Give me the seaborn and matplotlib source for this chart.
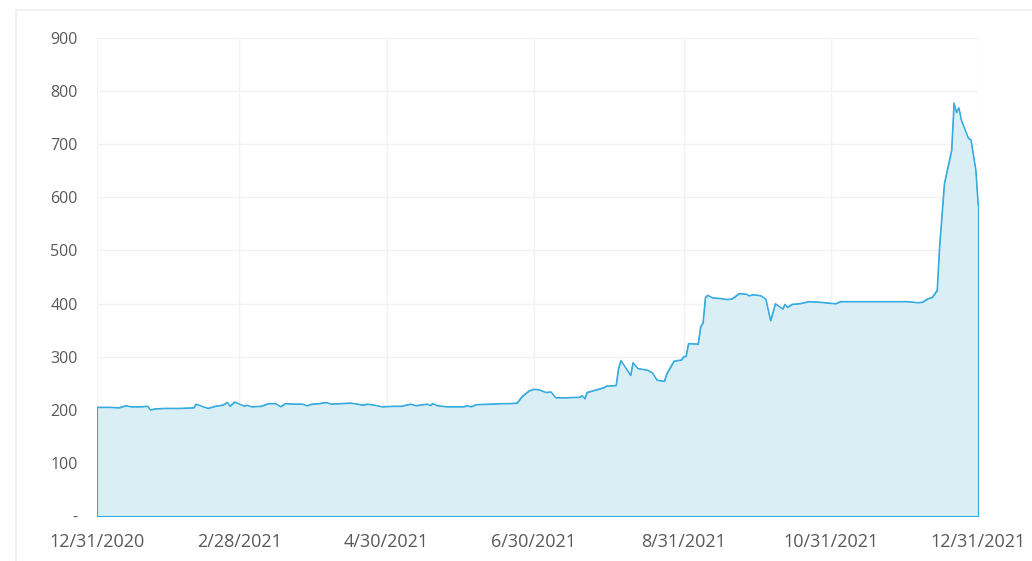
import numpy as np
import pandas as pd
import matplotlib
matplotlib.use("Agg")
import matplotlib.pyplot as plt
import matplotlib.dates as mdates
from matplotlib.patches import Rectangle
import seaborn as sns

# ---- data ----
start_date = "2020-12-31"
day_offsets = [0, 5, 9, 12, 14, 18, 21, 22, 24, 28, 34, 40, 41, 44, 46, 49, 52, 54, 55, 57,
               61, 62, 64, 68, 71, 74, 76, 78, 82, 85, 87, 89, 92, 95, 97, 101, 105, 108, 110,
               112, 115, 118, 123, 126, 130, 132, 135, 137, 138, 139, 141, 145, 152, 153, 155,
               157, 163, 168, 171, 174, 176, 179, 181, 183, 186, 188, 190, 194, 200, 201, 202,
               203, 207, 210, 211, 215, 216, 217, 221, 222, 224, 228, 230, 232, 235, 236, 239,
               242, 243, 244, 245, 249, 250, 251, 252, 253, 255, 258, 261, 263, 266, 269, 270,
               272, 275, 277, 279, 281, 284, 285, 286, 288, 291, 295, 299, 306, 308, 316, 328,
               336, 340, 342, 344, 346, 348, 349, 351, 354, 355, 356, 357, 358, 361, 362, 364, 365]
values = [205, 205, 204, 208, 206, 206, 207, 200, 202, 203, 203, 204, 211, 206, 203, 207, 209, 214, 207, 215,
          207, 209, 206, 207, 212, 212, 206, 212, 211, 211, 208, 211, 212, 214, 211, 212, 213, 211, 209,
          211, 209, 206, 207, 207, 211, 208, 210, 211, 208, 212, 208, 206, 206, 208, 206,
          210, 211, 212, 212, 213, 225, 236, 239, 238, 233, 234, 223, 223, 224, 227, 221,
          233, 238, 242, 245, 246, 278, 293, 265, 289, 278, 275, 270, 256, 254, 268, 292,
          294, 300, 301, 325, 324, 356, 364, 412, 416, 411, 410, 408, 409, 419, 418, 415,
          417, 415, 409, 368, 400, 390, 399, 393, 399, 400, 404, 403, 400, 404, 404, 404,
          404, 402, 403, 409, 412, 425, 507, 626, 689, 778, 760, 769, 746, 711, 709, 652, 585]
x_tick_dates = ["2020-12-31", "2021-02-28", "2021-04-30", "2021-06-30",
                "2021-08-31", "2021-10-31", "2021-12-31"]
x_tick_labels = ["12/31/2020", "2/28/2021", "4/30/2021", "6/30/2021",
                 "8/31/2021", "10/31/2021", "12/31/2021"]
y_ticks = [0, 100, 200, 300, 400, 500, 600, 700, 800, 900]
y_tick_labels = ["-", "100", "200", "300", "400", "500", "600", "700", "800", "900"]

df = pd.DataFrame({
    "date": pd.Timestamp(start_date) + pd.to_timedelta(day_offsets, unit="D"),
    "value": values,
})

# ---- style ----
sns.set_theme(style="white")
plt.rcParams["font.family"] = ["Open Sans", "DejaVu Sans"]

line_color = "#33AADF"
fill_color = "#DAEEF6"
text_color = "#595959"
grid_color = "#F2F2F2"

fig = plt.figure(figsize=(10.32, 5.61), dpi=100)
ax = fig.add_axes([97 / 1032, 1 - 516 / 561, (978 - 97) / 1032, (516 - 38) / 561])

# faint outer frame (top and left)
fig.add_artist(Rectangle((16 / 1032, -0.1), 1.2, 1 - 10 / 561 + 0.1, transform=fig.transFigure,
                         fill=False, edgecolor="#EEEEEE", linewidth=1.2, zorder=0))

ax.fill_between(df["date"], df["value"], 0, facecolor=fill_color, edgecolor=line_color,
                linewidth=0.8, zorder=2)
sns.lineplot(data=df, x="date", y="value", ax=ax, color=line_color, linewidth=0.8, zorder=3)

ax.set_xlim(pd.Timestamp(x_tick_dates[0]), pd.Timestamp(x_tick_dates[-1]))
ax.set_ylim(0, 900)
ax.set_xticks([pd.Timestamp(d) for d in x_tick_dates])
ax.set_xticklabels(x_tick_labels, fontsize=13, color=text_color)
ax.set_yticks(y_ticks)
ax.set_yticklabels(y_tick_labels, fontsize=11.5, color=text_color)
ax.tick_params(axis="x", length=0, pad=12)
ax.tick_params(axis="y", length=0, pad=14)
ax.set_xlabel("")
ax.set_ylabel("")

ax.grid(True, color=grid_color, linewidth=1.0, zorder=0)
ax.set_axisbelow(True)
for s in ax.spines.values():
    s.set_visible(False)

fig.savefig("out.png", dpi=100)
